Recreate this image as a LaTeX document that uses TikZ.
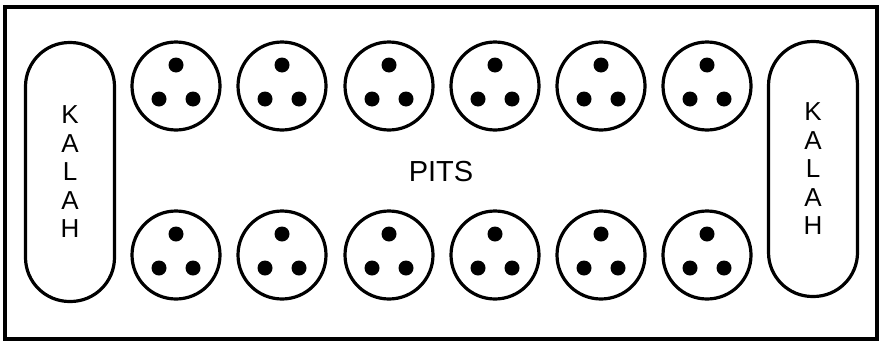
\documentclass[tikz,border=0pt]{standalone}
\usepackage{fontspec}
\setmainfont{Liberation Sans}
\begin{document}
\begin{tikzpicture}[x=1pt,y=-1pt,
  board/.style={draw=black,line width=3.2pt},
  pit/.style={draw=black,line width=3.2pt,circle,minimum size=88pt,inner sep=0pt},
  kalah/.style={draw=black,line width=3.2pt,rectangle,rounded corners=44pt,minimum width=89pt,inner sep=0pt,align=center,font=\fontsize{26}{28.5}\selectfont},
  seed/.style={fill=black,circle,minimum size=15pt,inner sep=0pt}]
\useasboundingbox (0,0) rectangle (882,343);
\fill[white] (0,0) rectangle (882,343);
\draw[board] (5,7) rectangle (877,339);
\node[kalah,minimum height=259pt] (kl) at (70,172) {K\\A\\L\\A\\H};
\node[kalah,minimum height=255pt] (kr) at (813,169) {K\\A\\L\\A\\H};
\foreach \i/\x in {1/176,2/282,3/389,4/495,5/601,6/707}{
  \node[pit] (t\i) at (\x,86) {};
  \node[pit] (b\i) at (\x,255) {};
  \foreach \r in {t,b}{
    \node[seed] (\r\i a) at ([yshift=21pt]\r\i.center) {};
    \node[seed] (\r\i b) at ([xshift=-17pt,yshift=-13pt]\r\i.center) {};
    \node[seed] (\r\i c) at ([xshift=17pt,yshift=-13pt]\r\i.center) {};
  }
}
\node[font=\fontsize{29}{30}\selectfont] (pits) at (441,172) {PITS};
\end{tikzpicture}
\end{document}
